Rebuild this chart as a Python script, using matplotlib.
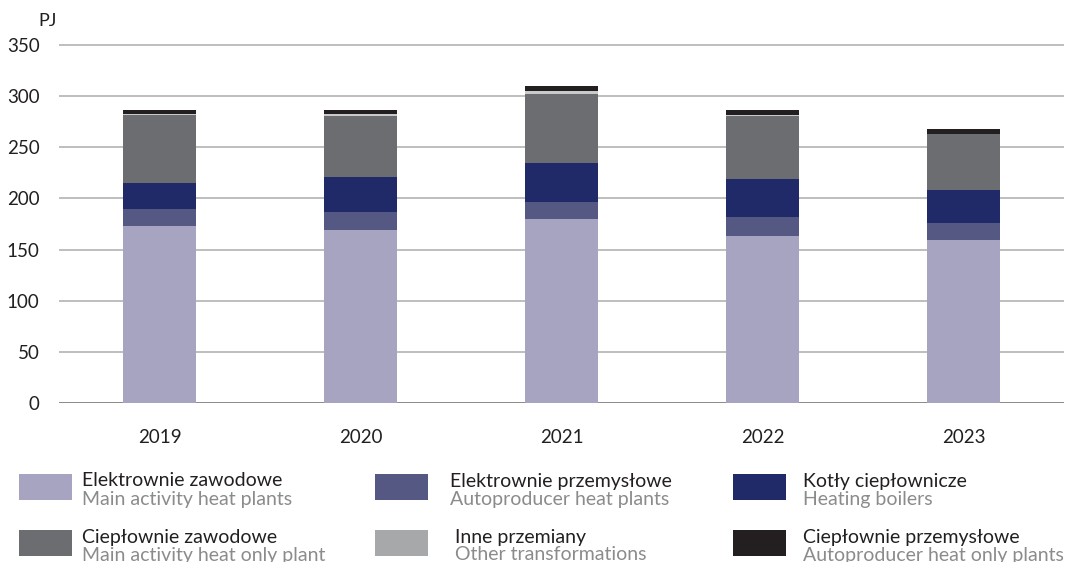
import matplotlib
matplotlib.use('Agg')
import matplotlib.pyplot as plt
from matplotlib.patches import Rectangle
import numpy as np

years = ['2019', '2020', '2021', '2022', '2023']

# PJ, stacked from bottom to top
elektrownie_zawodowe = [173.0, 169.0, 180.0, 163.0, 159.3]
elektrownie_przemyslowe = [16.6, 17.6, 16.6, 18.6, 16.6]
kotly_cieplownicze = [25.4, 34.2, 38.0, 37.0, 32.3]
cieplownie_zawodowe = [66.8, 60.0, 67.4, 61.6, 54.7]
inne_przemiany = [1.0, 2.0, 2.9, 1.7, 0.4]
cieplownie_przemyslowe = [3.6, 3.6, 4.9, 4.2, 4.9]

series = [elektrownie_zawodowe, elektrownie_przemyslowe, kotly_cieplownicze,
          cieplownie_zawodowe, inne_przemiany, cieplownie_przemyslowe]
labels_pl = ['Elektrownie zawodowe', 'Elektrownie przemysłowe', 'Kotły ciepłownicze',
             'Ciepłownie zawodowe', 'Inne przemiany', 'Ciepłownie przemysłowe']
labels_en = ['Main activity heat plants', 'Autoproducer heat plants', 'Heating boilers',
             'Main activity heat only plant', 'Other transformations',
             'Autoproducer heat only plants']
colors = ['#a7a4c2', '#565884', '#212a68', '#6c6d70', '#c9cacc', '#231f20']

plt.rcParams['font.family'] = ['Lato', 'DejaVu Sans']

W, H = 1072, 562
fig = plt.figure(figsize=(W / 100, H / 100), dpi=100)


def fx(px):
    return px / W


def fy(py):
    return 1 - py / H


ax = fig.add_axes([fx(59), fy(403), fx(1064) - fx(59), 360 / H])

x = np.arange(len(years))
bottom = np.zeros(len(years))
for vals, c in zip(series, colors):
    ax.bar(x, vals, bottom=bottom, width=0.36, color=c, zorder=3)
    bottom += np.array(vals)

ax.set_xlim(-0.5, len(years) - 0.5)
ax.set_ylim(0, 352)
ax.set_yticks(range(0, 351, 50))
ax.set_xticks(x)
ax.set_xticklabels(years)
ax.grid(axis='y', color='#b3b3b3', linewidth=1.2, zorder=0)
ax.axhline(0, color='#8c8c8c', linewidth=1.4, zorder=2)
for s in ax.spines.values():
    s.set_visible(False)
ax.tick_params(axis='both', length=0, labelsize=13.5, colors='#231f20')
ax.tick_params(axis='y', pad=14)
ax.tick_params(axis='x', pad=19)
for lab in ax.get_yticklabels():
    lab.set_horizontalalignment('right')

fig.text(fx(38), fy(21), 'PJ', fontsize=13, color='#231f20', va='center', ha='left')

# legend in 2 rows x 3 columns
patch_x = [19, 375, 733]
text_x = [82, 450, 803]
row_y = [474, 530]
for i in range(6):
    r, cidx = divmod(i, 3)
    px, py = patch_x[cidx], row_y[r]
    fig.add_artist(Rectangle((fx(px), fy(py + 26)), 53 / W, 26 / H,
                             transform=fig.transFigure, color=colors[i] if i != 4 else '#a7a8aa',
                             lw=0))
    tx = text_x[cidx] + (5 if i == 4 else 0)
    fig.text(fx(tx), fy(py + 7), labels_pl[i], fontsize=14, color='#231f20',
             va='center', ha='left')
    fig.text(fx(tx), fy(py + 25), labels_en[i], fontsize=14, color='#8a8b8d',
             va='center', ha='left')

fig.savefig('out.png', dpi=100)
